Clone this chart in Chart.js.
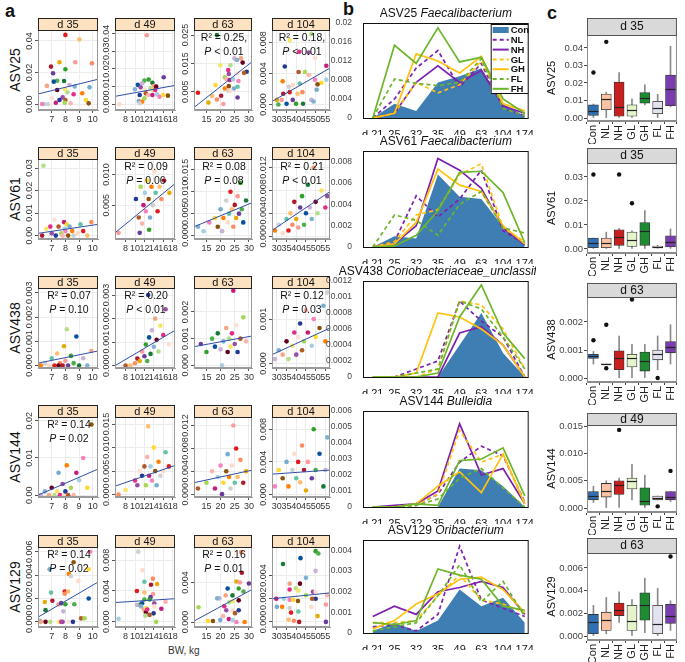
<!DOCTYPE html>
<html>
<head>
<meta charset="utf-8">
<script src="https://cdn.jsdelivr.net/npm/chart.js@4.4.1/dist/chart.umd.min.js"></script>
<style>
  body { margin: 0; background: #fff; width: 685px; height: 662px; position: relative; overflow: hidden;
         font-family: 'Liberation Sans', Arial, sans-serif; }
  canvas { position: absolute; }
  .txt { position: absolute; white-space: nowrap; color: #111; }
  .rot { transform: translate(-50%, -50%) rotate(-90deg); }
</style>
</head>
<body>
<div class="txt" style="left:5px;top:1px;font-size:18px;font-weight:bold;">a</div>
<div class="txt" style="left:343px;top:-1px;font-size:18px;font-weight:bold;">b</div>
<div class="txt" style="left:547px;top:3px;font-size:18px;font-weight:bold;">c</div>
<div class="txt" style="left:168px;top:645px;font-size:10px;color:#333;">BW, kg</div>
<script>
// ---------------- shared labels ----------------
const asvNames = ['ASV25', 'ASV61', 'ASV438', 'ASV144', 'ASV129'];
const dayNames = ['d 35', 'd 49', 'd 63', 'd 104'];
const groups = ['Con', 'NL', 'NH', 'GL', 'GH', 'FL', 'FH'];

// ---------------- panel a : [BW kg, relative abundance] ----------------
const bwTicks35 = [7, 8, 9, 10];
const bwTicks49 = [8, 10, 12, 14, 16, 18];
const bwTicks63 = [15, 20, 25, 30];
const bwTicks104 = [30, 35, 40, 45, 50, 55];

const a25_d35 = [[8.0,0.0438],[9.02,0.041],[9.94,0.0259],[6.95,0.0238],[7.57,0.0265],[8.72,0.0265],[7.1,0.0196],[8.0,0.0221],[7.4,0.0149],[7.15,0.0143],[7.9,0.0147],[8.3,0.0122],[8.68,0.0112],[6.65,0.0116],[7.4,0.009],[8.15,0.0076],[7.97,0.0095],[8.6,0.0063],[7.8,0.0044],[7.0,0.0038],[7.57,0.0027],[8.0,0.0027],[7.95,0.001],[8.38,0.0006],[7.3,0.001],[6.43,0.0002],[6.3,0.0002],[9.5,0.0027],[9.7,0.0006],[9.76,0.0107],[9.23,0.007],[6.72,0.0]];
const a25_d49 = [[12.5,0.039],[16.1,0.0153],[12.9,0.014],[12.0,0.0134],[10.6,0.011],[13.7,0.0122],[11.5,0.0119],[10.0,0.0085],[14.0,0.0104],[14.5,0.0100],[13.3,0.009],[13.9,0.0081],[14.3,0.0081],[11.2,0.0096],[12.1,0.0081],[11.0,0.0053],[12.3,0.0062],[12.0,0.0034],[12.8,0.0053],[13.7,0.0053],[14.7,0.0057],[15.2,0.0043],[16.0,0.0053],[17.0,0.0049],[10.8,0.0019],[11.5,0.0015],[11.0,0.0006],[6.7,0.0]];
const a25_d63 = [[18.7,0.025],[24.9,0.0168],[25.8,0.0162],[27.2,0.0168],[27.8,0.0153],[23.5,0.0144],[19.9,0.0144],[22.7,0.0127],[22.9,0.0113],[26.0,0.0115],[29.2,0.0121],[28.3,0.0117],[21.5,0.0101],[22.1,0.0094],[23.2,0.0092],[24.4,0.0094],[26.3,0.0088],[18.2,0.0074],[22.9,0.007],[24.7,0.0062],[21.5,0.0062],[22.7,0.0054],[23.5,0.0054],[26.0,0.0068],[12.0,0.0047],[17.0,0.0035],[18.7,0.0023],[20.2,0.0036],[15.7,0.0012],[21.0,0.0007],[26.0,0.003]];
const a25_d104 = [[47.8,0.0091],[36.6,0.0083],[41.5,0.0068],[46.4,0.0067],[49.7,0.006],[34.1,0.0049],[41.2,0.0042],[44.5,0.0042],[46.4,0.0038],[55.5,0.005],[55.5,0.0032],[49.7,0.0032],[53.0,0.0028],[51.0,0.0026],[50.5,0.0019],[33.0,0.003],[36.2,0.0023],[38.2,0.0025],[41.8,0.0027],[36.6,0.0016],[40.7,0.0014],[43.2,0.0016],[33.3,0.0014],[30.0,0.0006],[32.5,0.0006],[38.2,0.0006],[39.9,0.0001],[30.8,0.0],[35.0,0.0001],[43.5,0.0001],[47.8,0.0006],[48.9,0.0004]];

const a61_d35 = [[6.4,0.031],[6.6,0.003],[6.9,0.004],[7.0,0.001],[7.2,0.007],[7.3,0.0],[7.5,0.004],[7.7,0.001],[7.8,0.0],[7.9,0.006],[7.95,0.003],[8.0,0.002],[8.1,0.005],[8.2,0.0],[8.3,0.004],[8.5,0.002],[8.6,0.0],[8.9,0.001],[9.1,0.005],[9.3,0.002],[9.6,0.0],[9.9,0.006],[6.3,0.0]];
const a61_d49 = [[10.2,0.006],[10.8,0.003],[11.2,0.008],[11.5,0.002],[11.8,0.005],[12.1,0.007],[12.3,0.004],[12.6,0.009],[12.9,0.006],[13.2,0.003],[13.5,0.008],[13.8,0.005],[14.1,0.0105],[14.4,0.007],[14.8,0.004],[15.2,0.008],[15.6,0.006],[16.2,0.009],[17.3,0.007],[6.5,0.0005],[11.0,0.0005],[13.0,0.001]];
const a61_d63 = [[14,0.001],[16,0.003],[18,0.004],[19,0.002],[20,0.006],[21,0.004],[22,0.008],[22.5,0.003],[23,0.005],[23.5,0.01],[24,0.006],[24.5,0.002],[25,0.007],[25.5,0.004],[26,0.009],[26.5,0.005],[27,0.012],[27.5,0.006],[28,0.003],[29,0.008],[20.5,0.001],[12,0.002]];
const a61_d104 = [[29,0.001],[31,0.002],[33,0.0005],[35,0.003],[36,0.001],[37,0.004],[38,0.002],[39,0.006],[40,0.003],[41,0.0015],[42,0.005],[43,0.007],[44,0.002],[45,0.004],[46,0.009],[47,0.005],[48,0.003],[49,0.012],[50,0.006],[51,0.004],[53,0.008],[55,0.005],[56,0.007]];

const a438_d35 = [[6.2,0.0],[6.5,0.0001],[6.8,0.0],[7.0,0.0003],[7.2,0.0],[7.4,0.0005],[7.6,0.0001],[7.8,0.0],[7.9,0.0008],[8.0,0.0002],[8.2,0.0],[8.4,0.0004],[8.6,0.0001],[8.8,0.0012],[9.0,0.0],[9.3,0.0003],[9.6,0.0],[9.9,0.0006],[7.5,0.0],[8.1,0.0015]];
const a438_d49 = [[9,0.0],[10,0.0001],[10.5,0.0003],[11,0.0002],[11.5,0.0006],[12,0.0004],[12.3,0.0009],[12.6,0.0002],[13,0.0012],[13.3,0.0005],[13.6,0.0015],[14,0.0008],[14.3,0.002],[14.6,0.0011],[15,0.0006],[15.4,0.0017],[16,0.0013],[16.5,0.0024],[17.2,0.0009],[12.8,0.003],[8,0.0]];
const a438_d63 = [[13,0.0008],[15,0.0005],[17,0.001],[18,0.0007],[19,0.0012],[20,0.0006],[21,0.0009],[22,0.0014],[22.5,0.0005],[23,0.001],[23.5,0.0007],[24,0.0012],[25,0.0008],[25.5,0.0015],[26,0.0005],[27,0.001],[28,0.0018],[29,0.0009],[24.5,0.0028],[20.5,0.0]];
const a438_d104 = [[29,0.0001],[31,0.0003],[33,0.0002],[35,0.0005],[36,0.0001],[38,0.0004],[39,0.0007],[40,0.0002],[41,0.0006],[42,0.0009],[43,0.0003],[44,0.0005],[45,0.0012],[46,0.0007],[48,0.0004],[49,0.001],[50,0.0006],[52,0.0008],[54,0.0013],[55,0.0005],[56,0.0016]];

const a144_d35 = [[6.2,0.0],[6.5,0.001],[6.8,0.0],[7.0,0.002],[7.2,0.0],[7.4,0.001],[7.6,0.0],[7.8,0.003],[7.9,0.0],[8.0,0.001],[8.2,0.0],[8.4,0.002],[8.6,0.0],[8.8,0.006],[9.0,0.004],[9.3,0.01],[9.6,0.002],[9.9,0.019],[7.5,0.006],[8.1,0.008]];
const a144_d49 = [[8,0.001],[10,0.003],[10.5,0.002],[11,0.005],[11.5,0.004],[12,0.006],[12.3,0.002],[12.6,0.008],[13,0.004],[13.3,0.006],[13.6,0.003],[14,0.01],[14.3,0.005],[14.6,0.002],[15,0.007],[15.4,0.004],[16,0.005],[16.5,0.009],[17.2,0.006],[12.8,0.0145],[6.5,0.0]];
const a144_d63 = [[12,0.001],[15,0.002],[17,0.004],[18,0.001],[19,0.003],[20,0.005],[21,0.002],[22,0.004],[22.5,0.007],[23,0.003],[23.5,0.001],[24,0.005],[25,0.002],[25.5,0.008],[26,0.003],[27,0.006],[28,0.002],[29,0.004],[24.5,0.012],[20.5,0.0]];
const a144_d104 = [[29,0.001],[31,0.003],[33,0.002],[35,0.004],[36,0.001],[38,0.003],[39,0.005],[40,0.002],[41,0.004],[42,0.0015],[43,0.006],[44,0.003],[45,0.0005],[46,0.004],[48,0.002],[49,0.008],[50,0.003],[52,0.005],[54,0.001],[55,0.003],[56,0.007]];

const a129_d35 = [[9.8,0.006],[9.7,0.0045],[8.6,0.0051],[6.85,0.0045],[8.25,0.0041],[8.4,0.0039],[8.95,0.0035],[6.95,0.0025],[7.95,0.0026],[8.2,0.0026],[7.95,0.0024],[7.05,0.0018],[6.5,0.0017],[7.5,0.0015],[7.7,0.0016],[8.0,0.0015],[8.65,0.0015],[9.7,0.002],[6.55,0.001],[7.85,0.0009],[6.15,0.0001],[6.2,0.0],[6.55,0.0],[6.9,0.0],[7.55,0.0],[7.7,0.0],[7.8,0.0],[8.25,0.0],[8.55,0.0],[9.15,0.0003],[9.4,0.0003]];
const a129_d49 = [[10.7,0.0091],[11.6,0.0067],[12.0,0.0052],[10.4,0.004],[12.0,0.0038],[13.8,0.0056],[13.4,0.0048],[14.7,0.0049],[13.85,0.0036],[13.3,0.0032],[13.1,0.0029],[12.0,0.0029],[11.5,0.0024],[11.0,0.0022],[10.4,0.0022],[11.3,0.002],[11.9,0.0016],[12.3,0.0012],[12.2,0.0008],[12.4,0.0018],[12.6,0.0016],[14.1,0.0024],[14.1,0.002],[13.95,0.0011],[13.1,0.0009],[14.5,0.0],[16.5,0.0026],[15.6,0.0017],[6.5,0.0004]];
const a129_d63 = [[27.3,0.0071],[27.5,0.005],[25.6,0.0041],[26.8,0.004],[30.0,0.0039],[26.4,0.0034],[28.1,0.0031],[22.5,0.0034],[24.2,0.0027],[19.6,0.0024],[18.8,0.0024],[21.8,0.0027],[26.4,0.0022],[23.1,0.002],[24.2,0.0021],[21.3,0.0016],[22.0,0.0012],[24.2,0.0012],[26.4,0.0012],[25.1,0.0009],[12.2,0.0015],[20.9,0.0006],[22.9,0.0003],[24.2,0.0002],[25.6,0.0],[15.5,0.0001],[17.3,0.0001],[19.9,0.0002],[28.5,0.0]];
const a129_d104 = [[50,0.0061],[51.4,0.0059],[42.2,0.0055],[33.2,0.005],[50,0.0044],[45,0.0038],[36.6,0.0033],[41.9,0.0033],[39.8,0.0029],[41.1,0.0027],[36.6,0.0028],[48.6,0.0026],[50,0.0026],[50,0.002],[48.2,0.002],[45,0.0023],[56,0.0023],[29.7,0.002],[33.6,0.002],[36.6,0.0019],[38.4,0.0019],[40.9,0.0018],[30,0.0013],[32.7,0.0013],[36.6,0.0012],[47.8,0.0013],[41.1,0.0009],[37.3,0.0008],[36.1,0.0002],[38.8,0.0001],[41.5,0.0],[51,0.0005],[55.3,0.0015],[55.3,0.0]];

// fitted regression line end points
const fitLines = [
  [[[6.0,0.0065],[10.38,0.0158]], [[5.75,0.0045],[18.5,0.0107]], [[10.6,-0.0005],[31.1,0.0156]], [[27.5,0.0004],[57.4,0.0047]]],
  [[[6.0,0.001],[10.38,0.005]], [[5.75,0.0005],[18.5,0.0085]], [[10.6,0.002],[31.1,0.0075]], [[27.5,0.001],[57.4,0.0078]]],
  [[[6.0,0.0001],[10.38,0.0006]], [[5.75,0.0],[18.5,0.0015]], [[10.6,0.0007],[31.1,0.0011]], [[27.5,0.0002],[57.4,0.0008]]],
  [[[6.0,0.0],[10.38,0.007]], [[5.75,0.0018],[18.5,0.0062]], [[10.6,0.002],[31.1,0.0042]], [[27.5,0.0025],[57.4,0.003]]],
  [[[6.0,0.0004],[10.38,0.0034]], [[5.75,0.0025],[18.5,0.003]], [[10.6,0.0001],[31.1,0.0033]], [[27.5,0.002],[57.4,0.0025]]]
];
// y tick values shown on each panel
const aYTicks = [
  [[0,0.02,0.04],[0,0.01,0.02,0.03,0.04],[0.005,0.015,0.025],[0,0.004,0.008]],
  [[0,0.01,0.02,0.03],[0.005,0.010],[0,0.005,0.010,0.015],[0,0.004,0.008,0.012]],
  [[0,0.001,0.002,0.003],[0,0.001,0.002,0.003],[0,0.001,0.002],[0,0.001]],
  [[0,0.01,0.02],[0,0.005,0.010,0.015],[0,0.004,0.008,0.012],[0,0.004,0.008]],
  [[0,0.002,0.004,0.006],[0,0.004,0.008],[0,0.004],[0,0.002,0.004]]
];
const r2Text = [[null,null,'0.25,','0.18,'],[null,'0.09','0.08','0.21'],['0.07','0.20',null,'0.12'],['0.14',null,null,null],['0.14',null,'0.16',null]];
const pText = [[null,null,'< 0.01','< 0.01'],[null,'= 0.06','= 0.08','< 0.01'],['= 0.10','< 0.01',null,'= 0.03'],['= 0.02',null,null,null],['= 0.02',null,'= 0.01',null]];

// ---------------- panel b : mean abundance by sampling day ----------------
const bDays = ['d 21', '25', '32', '35', '49', '63', '104', '174'];
// rows in group order: Con, NL, NH, GL, GH, FL, FH
const b25 = [
  [0,0.003,0.0015,0.0075,0.0088,0.0105,0.003,0.0004],
  [0,0.004,0.0105,0.0142,0.0065,0.0115,0.002,0.0005],
  [0,0.001,0.0075,0.011,0.0075,0.010,0.0025,0.001],
  [0,0.001,0.0075,0.0053,0.007,0.012,0.003,0.0015],
  [0,0.001,0.0135,0.012,0.0095,0.013,0.003,0.0015],
  [0,0.0082,0.0073,0.0068,0.0075,0.0125,0.002,0.0005],
  [0,0.0153,0.0115,0.019,0.0118,0.0128,0.004,0.001]
];
const b61 = [
  [0,0.001,0.0008,0.0068,0.0047,0.0045,0.0019,0.0002],
  [0,0.0005,0.0048,0.0028,0.0045,0.0072,0.0015,0.0003],
  [0,0.0003,0.002,0.0083,0.0072,0.0055,0.0018,0.0002],
  [0,0.0005,0.003,0.0035,0.0068,0.0078,0.0018,0.0005],
  [0,0.0003,0.0023,0.0073,0.0058,0.0052,0.002,0.0003],
  [0,0.003,0.0025,0.0011,0.004,0.0052,0.0018,0.0013],
  [0,0.0001,0.0011,0.0034,0.007,0.0071,0.0051,0.0004]
];
const b438 = [
  [0,0,0,0,0.0004,0.0008,0.0003,0],
  [0,0,0.0001,0.0002,0.00095,0.0007,0.0005,0],
  [0,0,0,0,0.00055,0.00063,0.0004,0],
  [0,0,0,0.0001,0.00095,0.0009,0.0006,0.0001],
  [0,0,0.00005,0.0008,0.00075,0.0006,0.0004,0],
  [0,0,0.00005,0.0001,0.00095,0.00085,0.0005,0.0001],
  [0,0,0,0.00005,0.00075,0.00115,0.00055,0.00023]
];
const b144 = [
  [0,0,0,0,0.0024,0.0023,0.0013,0],
  [0,0,0.0001,0.0008,0.0028,0.0038,0.0032,0.0003],
  [0,0.0001,0.0002,0.001,0.0052,0.002,0.0024,0.0002],
  [0,0,0.0001,0.0008,0.0048,0.0028,0.0033,0.0002],
  [0,0,0.0002,0.0013,0.0022,0.0009,0.0033,0.0002],
  [0,0,0.0001,0.0005,0.0018,0.0024,0.0012,0],
  [0,0,0.0002,0.0001,0.0029,0.003,0.0037,0.0007]
];
const b129 = [
  [0.0001,0.0005,0.0001,0.0006,0.0021,0.0013,0.0017,0.0005],
  [0.0003,0.0004,0.0001,0.0009,0.0042,0.0016,0.0012,0.0008],
  [0.0008,0.0013,0.0009,0.002,0.0022,0.0025,0.0022,0.0009],
  [0.0005,0.0005,0.0006,0.0018,0.0028,0.0016,0.0014,0.001],
  [0.0002,0.0006,0.0014,0.0019,0.0026,0.0027,0.0021,0.001],
  [0.0001,0.0003,0.0005,0.0018,0.0033,0.0015,0.0025,0.0008],
  [0.0005,0.0004,0.0006,0.0031,0.0028,0.0026,0.0013,0.0011]
];
const bTitleName = ['ASV25', 'ASV61', 'ASV438', 'ASV144', 'ASV129'];
const bTitleGenus = ['Faecalibacterium', 'Faecalibacterium', 'Coriobacteriaceae_unclassified', 'Bulleidia', 'Oribacterium'];
const bYMax = [0.02, 0.009, 0.0012, 0.006, 0.0045];
const bYStep = [0.002, 0.001, 0.0002, 0.001, 0.0005];

// ---------------- panel c : box plots [low whisker, q1, median, q3, high whisker] ----------------
const cDay = ['d 35', 'd 35', 'd 63', 'd 49', 'd 63'];
const c25 = [[0,0.0015,0.0038,0.0075,0.008],[0,0.0048,0.011,0.0137,0.0148],[0,0.001,0.0065,0.0205,0.026],[0,0.001,0.0045,0.0075,0.011],[0.0075,0.0085,0.0115,0.0145,0.019],[0,0.0025,0.0055,0.0095,0.0135],[0.0065,0.007,0.0165,0.0245,0.041]];
const c61 = [[0,0.0005,0.0025,0.0045,0.0045],[0,0.0005,0.0025,0.0045,0.007],[0,0.0015,0.005,0.008,0.0085],[0,0.001,0.0038,0.007,0.0075],[0,0.0015,0.0073,0.011,0.016],[0.0003,0.0005,0.0009,0.0012,0.0015],[0,0.0008,0.0028,0.0055,0.0083]];
const c438 = [[0.0005,0.0007,0.00078,0.00085,0.00095],[0.0005,0.00049,0.0005,0.00051,0.0005],[0,0.0003,0.0007,0.00097,0.0015],[0,0.0004,0.0007,0.00085,0.0012],[0,0.00025,0.0006,0.00093,0.0012],[0.0003,0.00065,0.00085,0.001,0.0015],[0.0005,0.0009,0.0011,0.0013,0.0019]];
const c144 = [[0.001,0.0015,0.0022,0.003,0.004],[0,0.002,0.0032,0.0045,0.005],[0,0.0025,0.0043,0.005,0.0055],[0.0015,0.0035,0.005,0.0055,0.008],[0,0.0005,0.0013,0.0037,0.006],[0.0015,0.0015,0.0019,0.0022,0.0022],[0.0012,0.0015,0.002,0.003,0.003]];
const c129 = [[0,0.0002,0.0012,0.0019,0.0027],[0.0002,0.0005,0.0014,0.0021,0.0034],[0.0012,0.0018,0.0023,0.0029,0.0039],[0,0.0005,0.0013,0.0027,0.0032],[0.0003,0.0014,0.0027,0.0038,0.0051],[0,0.0002,0.0011,0.0027,0.0042],[0.0005,0.0011,0.0018,0.0028,0.0031]];
const c25Out = [['Con',0.026],['NL',0.0435]];
const c61Out = [['Con',0.031],['NH',0.031],['GL',0.019]];
const c438Out = [['Con',0.00135],['NL',0.0019],['NL',0.00035],['GL',0.0028],['FL',0.0]];
const c144Out = [['NH',0.0143],['FL',0.0003],['FH',0.0068]];
const c129Out = [['FH',0.007]];
const cYTicks = [[0,0.01,0.02,0.03,0.04],[0,0.01,0.02,0.03],[0,0.001,0.002],[0,0.005,0.010,0.015],[0,0.002,0.004,0.006]];

// ---------------- styling ----------------
const FONT = "'Liberation Sans', Arial, sans-serif";
const PAL = ['#E31A1C','#FB9A99','#1B7837','#B2DF8A','#1F3A93','#A6CEE3','#FF7F00','#FDBF6F','#6A3D9A','#CAB2D6',
  '#F5E663','#B15928','#F781BF','#D0D0D0','#FC8D62','#33A02C','#80B1D3','#E7298A','#A6D854','#FFD92F',
  '#FDDBC7','#B2182B','#4DAF4A','#F4A582','#984EA3','#FBB4AE','#8C510A','#66C2A5','#E6AB02','#08519C',
  '#67001F','#FEE0D2','#C51B7D','#74ADD1'];
const PURPLE = '#7E22AE', GOLD = '#FFC20E', GREEN = '#6DB52B', CONBLUE = '#3F7EB3';
const BOXCOL = ['#2F6FB3', '#FBC3A4', '#C8201E', '#E4F5CB', '#1E8B32', '#E3E3F0', '#7A3CAE'];

function addCanvas(left, top, w, h) {
  const cv = document.createElement('canvas');
  cv.width = w; cv.height = h;
  cv.style.left = left + 'px';
  cv.style.top = top + 'px';
  document.body.appendChild(cv);
  return cv;
}
function addText(html, x, y, css) {
  const d = document.createElement('div');
  d.className = 'txt rot';
  d.style.cssText = `left:${x}px;top:${y}px;` + css;
  d.innerHTML = html;
  document.body.appendChild(d);
}

// strip, frame, rotated y labels and the R2 / P text of panel a
const aDeco = {
  id: 'aDeco',
  afterDraw(chart, args, o) {
    const { ctx, chartArea: ca, scales: { y } } = chart;
    const w = ca.right - ca.left;
    ctx.save();
    ctx.strokeStyle = '#9A9A9A'; ctx.lineWidth = 1;
    ctx.strokeRect(ca.left + 0.5, ca.top + 0.5, w - 1, ca.bottom - ca.top - 1);
    ctx.fillStyle = '#FDE2C2';
    ctx.fillRect(ca.left, ca.top - 12, w, 12);
    ctx.strokeStyle = '#222';
    ctx.strokeRect(ca.left + 0.5, ca.top - 11.5, w - 1, 12);
    ctx.fillStyle = '#111'; ctx.font = '11px ' + FONT;
    ctx.textAlign = 'center'; ctx.textBaseline = 'middle';
    ctx.fillText(o.strip, ca.left + w / 2, ca.top - 5);
    ctx.font = '9px ' + FONT; ctx.fillStyle = '#333';
    o.yt.forEach(v => {
      const py = y.getPixelForValue(v);
      ctx.save();
      ctx.translate(ca.left - 8, py);
      ctx.rotate(-Math.PI / 2);
      ctx.fillText(v.toFixed(o.dec), 0, 0);
      ctx.restore();
    });
    if (o.r2) {
      const cx = ca.left + w / 2 + 1;
      ctx.fillStyle = '#111'; ctx.font = '10.5px ' + FONT;
      ctx.fillText('R² = ' + o.r2, cx, ca.top + 8);
      const rest = ' ' + o.p;
      ctx.font = 'italic 10.5px ' + FONT;
      const pw = ctx.measureText('P').width;
      ctx.font = '10.5px ' + FONT;
      const rw = ctx.measureText(rest).width;
      const x0 = cx - (pw + rw) / 2;
      ctx.textAlign = 'left';
      ctx.font = 'italic 10.5px ' + FONT;
      ctx.fillText('P', x0, ca.top + 22);
      ctx.font = '10.5px ' + FONT;
      ctx.fillText(rest, x0 + pw, ca.top + 22);
    }
    ctx.restore();
  }
};

const aData = [
  [a25_d35, a25_d49, a25_d63, a25_d104],
  [a61_d35, a61_d49, a61_d63, a61_d104],
  [a438_d35, a438_d49, a438_d63, a438_d104],
  [a144_d35, a144_d49, a144_d63, a144_d104],
  [a129_d35, a129_d49, a129_d63, a129_d104]
];
const aXTicks = [bwTicks35, bwTicks49, bwTicks63, bwTicks104];
const aXRange = [[6.0, 10.38], [5.75, 18.5], [10.6, 31.1], [27.5, 57.4]];
const aYRange = [
  [[-0.0036,0.0469],[-0.0032,0.042],[-0.0014,0.0268],[-0.0007,0.0096]],
  [[-0.0015,0.034],[-0.0005,0.0125],[-0.0008,0.0175],[-0.0005,0.0135]],
  [[-0.0001,0.0032],[-0.0001,0.0033],[-0.0001,0.0029],[-0.0001,0.0017]],
  [[-0.0005,0.021],[-0.0005,0.0165],[-0.0005,0.0135],[-0.0003,0.0095]],
  [[-0.00044,0.0064],[-0.00067,0.0097],[-0.0005,0.0076],[-0.00044,0.00646]]
];
const aColX = [[38, 101], [115, 178], [194, 255], [272, 333]];
const aRowTop = [18, 147, 276, 405, 535];

function decimals(ticks) {
  return Math.max(...ticks.map(v => { const s = String(v); return s.includes('.') ? s.split('.')[1].length : 0; }), 2);
}

aData.forEach((row, r) => {
  addText(asvNames[r], 15, aRowTop[r] + 52, 'font-size:14px;');
  row.forEach((pts, c) => {
    const [x0, x1] = aColX[c];
    const T = aRowTop[r];
    const cv = addCanvas(x0 - 15, T, x1 - x0 + 16, 106);
    const yt = aYTicks[r][c];
    const xt = aXTicks[c];
    new Chart(cv, {
      type: 'scatter',
      data: {
        datasets: [
          { data: pts.map(p => ({ x: p[0], y: p[1] })), backgroundColor: pts.map((p, i) => PAL[(i * 7 + r * 3 + c) % PAL.length]),
            pointRadius: 2.3, pointBorderWidth: 0, order: 1 },
          { type: 'line', data: fitLines[r][c].map(p => ({ x: p[0], y: p[1] })), borderColor: '#2F4FA8', borderWidth: 1,
            pointRadius: 0, order: 0 }
        ]
      },
      options: {
        responsive: false, animation: false, events: [],
        layout: { padding: { top: 12, right: 1, left: 0, bottom: 0 } },
        plugins: {
          legend: { display: false }, tooltip: { enabled: false },
          aDeco: { strip: dayNames[c], yt, dec: decimals(yt), r2: r2Text[r][c], p: pText[r][c] }
        },
        scales: {
          x: {
            type: 'linear', min: aXRange[c][0], max: aXRange[c][1],
            afterBuildTicks: s => { s.ticks = xt.map(v => ({ value: v })); },
            afterFit: s => { s.height = 14; },
            ticks: { font: { size: 9, family: FONT }, color: '#333', padding: 1, maxRotation: 0, autoSkip: false },
            grid: { color: '#ECECEC', tickColor: '#555', tickLength: 3 },
            border: { color: '#9A9A9A' }
          },
          y: {
            min: aYRange[r][c][0], max: aYRange[r][c][1],
            afterBuildTicks: s => { s.ticks = yt.map(v => ({ value: v })); },
            afterFit: s => { s.width = 15; },
            ticks: { display: false },
            grid: { color: '#ECECEC', tickColor: '#555', tickLength: 3 },
            border: { color: '#9A9A9A' }
          }
        }
      },
      plugins: [aDeco]
    });
  });
});

// ---------------- panel b ----------------
const bDeco = {
  id: 'bDeco',
  afterDraw(chart, args, o) {
    const { ctx, chartArea: ca } = chart;
    ctx.save();
    ctx.strokeStyle = '#111'; ctx.lineWidth = 1;
    ctx.strokeRect(ca.left + 0.5, ca.top + 0.5, ca.right - ca.left - 1, ca.bottom - ca.top);
    // title: name + italic genus
    ctx.fillStyle = '#111'; ctx.textBaseline = 'middle'; ctx.textAlign = 'left';
    ctx.font = '12px ' + FONT;
    const n = o.name + ' ';
    const nw = ctx.measureText(n).width;
    ctx.font = 'italic 12px ' + FONT;
    const gw = ctx.measureText(o.genus).width;
    const x0 = (ca.left + ca.right) / 2 - (nw + gw) / 2;
    ctx.font = '12px ' + FONT;
    ctx.fillText(n, x0, ca.top - 9);
    ctx.font = 'italic 12px ' + FONT;
    ctx.fillText(o.genus, x0 + nw, ca.top - 9);
    if (o.legend) {
      const lx = ca.right - 38, ly = ca.top + 1, lw = 38, lh = 70;
      ctx.fillStyle = '#fff'; ctx.fillRect(lx, ly, lw, lh);
      ctx.strokeStyle = '#111'; ctx.strokeRect(lx + 0.5, ly + 0.5, lw - 1, lh - 1);
      chart.data.datasets.forEach((ds, i) => {
        const yy = ly + 6 + i * 9.8;
        if (ds.fill) {
          ctx.fillStyle = ds.backgroundColor; ctx.fillRect(lx + 2, yy - 3, 16, 6);
        } else {
          ctx.strokeStyle = ds.borderColor; ctx.lineWidth = 2; ctx.setLineDash(ds.borderDash || []);
          ctx.beginPath(); ctx.moveTo(lx + 2, yy); ctx.lineTo(lx + 18, yy); ctx.stroke();
          ctx.setLineDash([]);
        }
        ctx.fillStyle = '#111'; ctx.font = 'bold 9.5px ' + FONT; ctx.textAlign = 'left';
        ctx.fillText(ds.label, lx + 20, yy + 0.5);
      });
    }
    ctx.restore();
  }
};
const bData = [b25, b61, b438, b144, b129];
const bRows = [[14, 23, 118], [143, 151, 247], [273, 281, 377], [403, 411, 507], [532, 540, 633]];
const lineStyles = [null, [PURPLE, [4, 3]], [PURPLE, []], [GOLD, [4, 3]], [GOLD, []], [GREEN, [4, 3]], [GREEN, []]];

bData.forEach((series, r) => {
  const [ty, top, zero] = bRows[r];
  const cTop = ty - 9;
  const cv = addCanvas(325, cTop, 211, zero - cTop + 17);
  const datasets = series.map((vals, g) => {
    const pts = vals.map((v, i) => ({ x: i, y: v }));
    if (g === 0) {
      return { label: groups[g], data: pts, fill: 'origin', backgroundColor: CONBLUE, borderWidth: 0, pointRadius: 0, order: 10 };
    }
    const [col, dash] = lineStyles[g];
    return { label: groups[g], data: pts, borderColor: col, borderDash: dash, borderWidth: 1.7, pointRadius: 0,
             fill: false, order: g === 6 ? 1 : 8 - g };
  });
  new Chart(cv, {
    type: 'line',
    data: { datasets },
    options: {
      responsive: false, animation: false, events: [],
      layout: { padding: { top: top - cTop, right: 2, left: 0, bottom: 0 } },
      plugins: { legend: { display: false }, tooltip: { enabled: false },
                 bDeco: { name: bTitleName[r], genus: bTitleGenus[r], legend: r === 0 } },
      scales: {
        x: {
          type: 'linear', min: -0.45, max: 7.18,
          afterFit: s => { s.height = 17; },
          ticks: { stepSize: 1, includeBounds: false, autoSkip: false, maxRotation: 0, padding: 2,
                   font: { size: 11, family: FONT }, color: '#111',
                   callback: v => (Number.isInteger(v) && bDays[v]) ? bDays[v] : '' },
          grid: { display: false }, border: { display: false }
        },
        y: {
          min: 0, max: bYMax[r],
          afterFit: s => { s.width = 38; },
          ticks: { stepSize: bYStep[r], font: { size: 8.5, family: FONT }, color: '#444', padding: 3,
                   callback: v => String(parseFloat(v.toFixed(5))) },
          grid: { display: false }, border: { display: false }
        }
      }
    },
    plugins: [bDeco]
  });
});

// ---------------- panel c ----------------
const cDeco = {
  id: 'cDeco',
  afterDatasetsDraw(chart, args, o) {
    const { ctx, chartArea: ca, scales: { x, y } } = chart;
    ctx.save();
    ctx.strokeStyle = '#222'; ctx.lineWidth = 1.2;
    o.boxes.forEach((b, i) => {
      const px = x.getPixelForValue(i), py = Math.round(y.getPixelForValue(b[2])) + 0.5;
      ctx.beginPath(); ctx.moveTo(px - 5, py); ctx.lineTo(px + 5, py); ctx.stroke();
    });
    ctx.restore();
  },
  afterDraw(chart, args, o) {
    const { ctx, chartArea: ca } = chart;
    const w = ca.right - ca.left;
    ctx.save();
    ctx.strokeStyle = '#8C8C8C'; ctx.lineWidth = 1;
    ctx.strokeRect(ca.left + 0.5, ca.top + 0.5, w - 1, ca.bottom - ca.top - 1);
    ctx.fillStyle = '#D9D9D9';
    ctx.fillRect(ca.left, ca.top - o.sh, w, o.sh);
    ctx.strokeStyle = '#555';
    ctx.strokeRect(ca.left + 0.5, ca.top - o.sh + 0.5, w - 1, o.sh);
    ctx.fillStyle = '#111'; ctx.font = '12px ' + FONT; ctx.textAlign = 'center'; ctx.textBaseline = 'middle';
    ctx.fillText(o.strip, ca.left + w / 2, ca.top - o.sh / 2 + 0.5);
    ctx.restore();
  }
};
const cData = [c25, c61, c438, c144, c129];
const cOut = [c25Out, c61Out, c438Out, c144Out, c129Out];
// strip top, plot top, plot bottom, y min, y max
const cRows = [[18, 35, 121, -0.0017, 0.0474], [148, 163, 253, -0.0017, 0.0358], [283, 297, 382, -0.00014, 0.00289],
               [413, 425, 512, -0.00073, 0.0152], [538, 553, 640, -0.00035, 0.00731]];

cData.forEach((boxes, r) => {
  const [st, pt, pb, ymin, ymax] = cRows[r];
  const cv = addCanvas(545, st, 140, pb - st + 23);
  const yt = cYTicks[r];
  const dec = decimals(yt);
  new Chart(cv, {
    type: 'bar',
    data: {
      labels: groups,
      datasets: [
        { type: 'scatter', data: cOut[r].map(o => ({ x: o[0], y: o[1] })), backgroundColor: '#111', pointRadius: 2.2,
          pointBorderWidth: 0, order: 0 },
        { data: boxes.map(b => [b[1], b[3]]), backgroundColor: BOXCOL, borderColor: '#333', borderWidth: 0.8,
          borderSkipped: false, barThickness: 10, grouped: false, order: 1 },
        { data: boxes.map(b => [b[0], b[4]]), backgroundColor: '#8A8A8A', barThickness: 1, grouped: false, order: 2 }
      ]
    },
    options: {
      responsive: false, animation: false, events: [],
      layout: { padding: { top: pt - st, right: 2, left: 0, bottom: 0 } },
      plugins: { legend: { display: false }, tooltip: { enabled: false },
                 cDeco: { strip: cDay[r], sh: pt - st, boxes } },
      scales: {
        x: {
          afterFit: s => { s.height = 23; },
          ticks: { font: { size: 11, family: FONT }, color: '#222', minRotation: 90, maxRotation: 90, padding: 1, autoSkip: false },
          grid: { drawOnChartArea: false, tickColor: '#444', tickLength: 3 }, border: { color: '#8C8C8C' }
        },
        y: {
          min: ymin, max: ymax,
          afterBuildTicks: s => { s.ticks = yt.map(v => ({ value: v })); },
          afterFit: s => { s.width = 42; },
          title: { display: true, text: asvNames[r], font: { size: 11, family: FONT }, color: '#111', padding: 0 },
          ticks: { font: { size: 9.5, family: FONT }, color: '#444', padding: 1, callback: v => v.toFixed(dec) },
          grid: { drawOnChartArea: false, tickColor: '#444', tickLength: 3 }, border: { color: '#8C8C8C' }
        }
      }
    },
    plugins: [cDeco]
  });
});
</script>
</body>
</html>
